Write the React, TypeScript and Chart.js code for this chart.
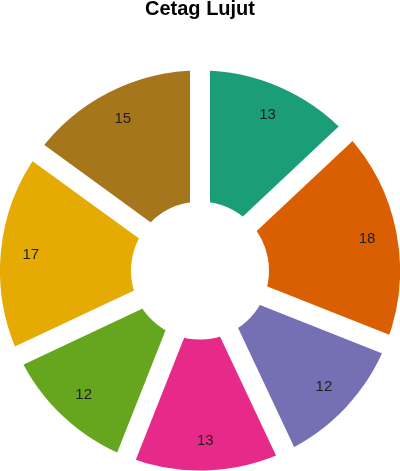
import React, { useEffect, useRef } from "react";
import { Chart, registerables } from "chart.js";

Chart.register(...registerables);

const title = "Cetag Lujut";
const categories = ["A", "B", "C", "D", "E", "F", "G"];
const values = [13, 18, 12, 13, 12, 17, 15];
const colors = ["#1b9e77", "#d95f02", "#7570b3", "#e7298a", "#66a61e", "#e6ab02", "#a6761d"];

const gapPlugin = {
  id: "sliceGaps",
  afterDatasetsDraw(chart: any) {
    const ctx = chart.ctx;
    const meta = chart.getDatasetMeta(0);
    ctx.save();
    ctx.strokeStyle = "#ffffff";
    ctx.lineWidth = 20;
    ctx.lineCap = "butt";
    meta.data.forEach((el: any) => {
      const a = el.startAngle;
      const r = el.outerRadius + 20;
      ctx.beginPath();
      ctx.moveTo(el.x, el.y);
      ctx.lineTo(el.x + Math.cos(a) * r, el.y + Math.sin(a) * r);
      ctx.stroke();
    });
    ctx.restore();
  },
};

const labelPlugin = {
  id: "sliceLabels",
  afterDatasetsDraw(chart: any) {
    const ctx = chart.ctx;
    const meta = chart.getDatasetMeta(0);
    ctx.save();
    ctx.font = "15px 'Liberation Sans', Arial, sans-serif";
    ctx.fillStyle = "#1e1e1e";
    ctx.textAlign = "center";
    ctx.textBaseline = "middle";
    meta.data.forEach((el: any, i: number) => {
      const mid = (el.startAngle + el.endAngle) / 2;
      const r = 170;
      ctx.fillText(String(values[i]), el.x + Math.cos(mid) * r, el.y + Math.sin(mid) * r);
    });
    ctx.restore();
  },
};

export default function App() {
  const ref = useRef<HTMLCanvasElement | null>(null);
  useEffect(() => {
    if (!ref.current) return;
    const chart = new Chart(ref.current, {
      type: "doughnut",
      data: {
        labels: categories,
        datasets: [
          {
            data: values,
            backgroundColor: colors,
            borderWidth: 0,
          },
        ],
      },
      options: {
        animation: false,
        responsive: true,
        maintainAspectRatio: false,
        cutout: "34.5%",
        layout: { padding: 0 },
        plugins: {
          legend: { display: false },
          tooltip: { enabled: false },
          title: {
            display: true,
            text: title,
            color: "#000",
            font: { size: 20, weight: "bold", lineHeight: 0.9, family: "'Liberation Sans', Arial, sans-serif" },
            padding: { top: 0, bottom: 52 },
          },
        },
      },
      plugins: [gapPlugin, labelPlugin],
    });
    return () => chart.destroy();
  }, []);
  return (
    <div style={{ position: "fixed", left: 0, top: 0, width: 400, height: 471, background: "#fff" }}>
      <canvas ref={ref} />
    </div>
  );
}
